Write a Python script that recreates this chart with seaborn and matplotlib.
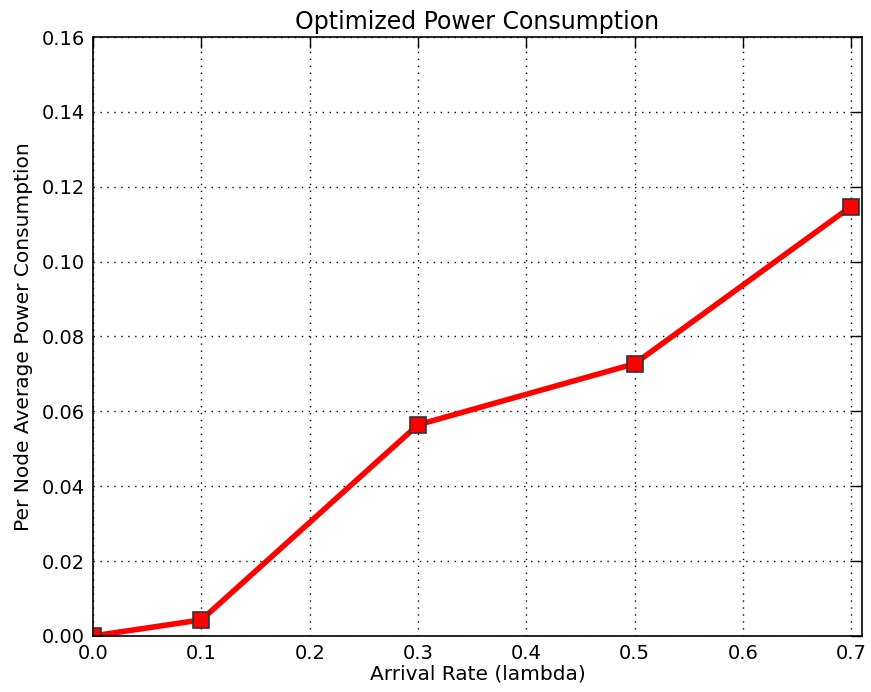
import matplotlib
matplotlib.use("Agg")
import matplotlib.pyplot as plt
import seaborn as sns
import pandas as pd

arrival_rate = [0.0, 0.1, 0.3, 0.5, 0.7]
power = [0.0, 0.0043, 0.0564, 0.0727, 0.1147]
x_ticks = [0.0, 0.1, 0.2, 0.3, 0.4, 0.5, 0.6, 0.7]
y_ticks = [0.00, 0.02, 0.04, 0.06, 0.08, 0.10, 0.12, 0.14, 0.16]

sns.set_style("white", {
    "xtick.direction": "in", "ytick.direction": "in",
    "axes.edgecolor": "black", "axes.linewidth": 1.2,
    "text.color": "black", "axes.labelcolor": "black",
    "xtick.color": "black", "ytick.color": "black",
})
plt.rcParams["font.family"] = ["DejaVu Sans"]

df = pd.DataFrame({"rate": arrival_rate, "power": power})

fig = plt.figure(figsize=(8.71, 6.92), dpi=100)
ax = fig.add_axes([0.107, 0.081, 0.8825, 0.8655])

sns.lineplot(data=df, x="rate", y="power", ax=ax, color="red", linewidth=4,
             marker="s", markersize=12, markeredgecolor="#333333",
             markeredgewidth=1.2)

ax.set_xlim(0, 0.71)
ax.set_ylim(0, 0.16)
ax.set_xticks(x_ticks)
ax.set_yticks(y_ticks)
ax.set_xticklabels([f"{v:.1f}" for v in x_ticks])
ax.set_yticklabels([f"{v:.2f}" for v in y_ticks])
ax.tick_params(axis="both", which="both", direction="in", length=8, width=1,
               top=True, right=True, labelsize=14, pad=6, colors="black")
ax.grid(True, linestyle=(0, (1, 4)), color="black", linewidth=1)
for s in ax.spines.values():
    s.set_visible(True)
    s.set_color("black")
    s.set_linewidth(1.2)

ax.set_xlabel("Arrival Rate (lambda)", fontsize=14.5, labelpad=1, color="black")
ax.set_ylabel("Per Node Average Power Consumption", fontsize=14.5, labelpad=6,
              color="black")
ax.set_title("Optimized Power Consumption", fontsize=17, pad=6, color="black")

fig.savefig("out.png", dpi=100)
